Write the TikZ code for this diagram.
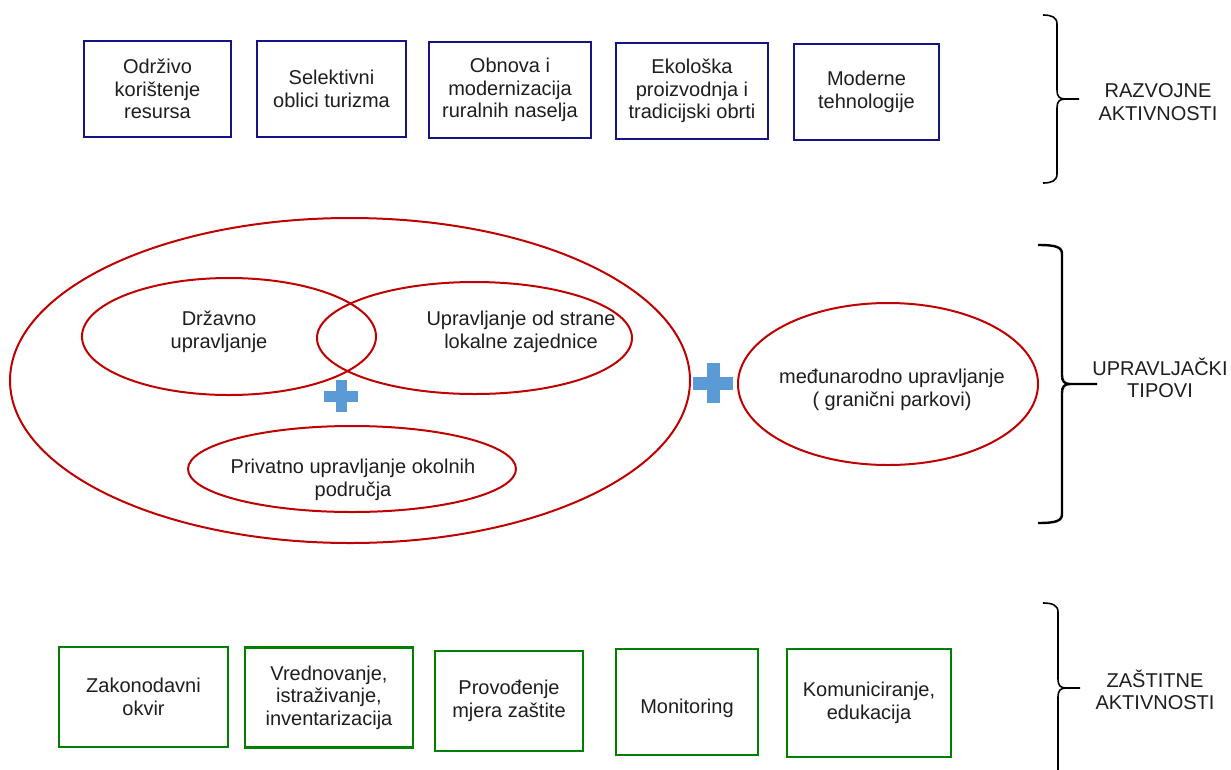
\documentclass[tikz,border=0pt]{standalone}
\usepackage{fontspec}
\setmainfont{Liberation Sans}
\usetikzlibrary{shapes.geometric}

\definecolor{boxblue}{RGB}{20,20,130}
\definecolor{boxgreen}{RGB}{0,128,0}
\definecolor{ovalred}{RGB}{192,0,0}
\definecolor{plusblue}{RGB}{91,155,213}
\definecolor{txtgray}{RGB}{30,30,30}

\begin{document}
\begin{tikzpicture}[
    x=1pt, y=-1pt,
    every node/.style={font=\fontsize{20}{22.5}\selectfont, text=txtgray, align=center},
    devbox/.style={draw=boxblue, line width=2.3pt, inner sep=0pt, minimum height=96},
    protbox/.style={draw=boxgreen, line width=2.3pt, inner sep=0pt, minimum height=100,
                    execute at begin node={\rule{0pt}{27pt}}},
    oval/.style={draw=ovalred, line width=2pt, ellipse, inner sep=0pt},
    bracket/.style={line width=1.8pt, black},
]
\useasboundingbox (0,0) rectangle (1231,769);
\fill[white] (0,0) rectangle (1231,769);

% Razvojne aktivnosti
\node[devbox, minimum width=147] (odrzivo)   at (157.5,89) {Održivo\\korištenje\\resursa};
\node[devbox, minimum width=149] (selektivni) at (331.5,89) {Selektivni\\oblici turizma};
\node[devbox, minimum width=162] (obnova)    at (510,90)   {Obnova i\\modernizacija\\ruralnih naselja};
\node[devbox, minimum width=152] (ekoloska)  at (692,91)   {Ekološka\\proizvodnja i\\tradicijski obrti};
\node[devbox, minimum width=145] (moderne)   at (866.5,92) {Moderne\\tehnologije};

% Upravljacki tipovi
\node[oval, minimum width=680, minimum height=325] (skupno) at (350,380.5) {};
\node[oval, minimum width=294, minimum height=117] (drzavno) at (229,336.5) {};
\node[oval, minimum width=315, minimum height=112] (lokalno) at (474.5,338) {};
\node[oval, minimum width=328, minimum height=86] (privatno) at (352,469) {};
\node[oval, minimum width=300, minimum height=162] (medjunarodno) at (888,384) {};
\node (drzavnotxt) at (219,332) {Državno\\upravljanje};
\node (lokalnotxt) at (521,332) {Upravljanje od strane\\lokalne zajednice};
\node (privatnotxt) at (353,480) {Privatno upravljanje okolnih\\područja};
\node (medjunarodnotxt) at (892,390) {međunarodno upravljanje\\( granični parkovi)};

% plusevi
\fill[plusblue] (335.5,380) rectangle (346.5,412);
\fill[plusblue] (324,390.5) rectangle (358,401.5);
\fill[plusblue] (706.5,363) rectangle (719.5,403);
\fill[plusblue] (693,376.5) rectangle (733,389.5);

% Zastitne aktivnosti
\node[protbox, minimum width=169] (zakonodavni) at (143.5,697) {Zakonodavni\\okvir};
\node[protbox, minimum width=168] (vrednovanje) at (329,697.5) {Vrednovanje,\\istraživanje,\\inventarizacija};
\node[protbox, minimum width=148] (provodjenje) at (509,701)   {Provođenje\\mjera zaštite};
\node[protbox, minimum width=142, minimum height=106] (monitoring) at (687,702) {Monitoring};
\node[protbox, minimum width=164, minimum height=108] (komuniciranje) at (869,703) {Komuniciranje,\\edukacija};

% zagrade
\foreach \bx/\bl/\btop/\bmid/\bbot/\btip/\bw in {1057/1043/15/99/183/1079/1.6, 1062/1038/245/384/523/1097/2.4}
  \draw[bracket, line width=\bw pt] (\bl,\btop) .. controls (\bx-6,\btop) and (\bx,\btop+2) .. (\bx,\btop+9)
    -- (\bx,\bmid-9) .. controls (\bx,\bmid-3) and (\bx+2,\bmid) .. (\bx+8,\bmid) -- (\btip,\bmid)
    (\bx+8,\bmid) .. controls (\bx+2,\bmid) and (\bx,\bmid+3) .. (\bx,\bmid+9)
    -- (\bx,\bbot-9) .. controls (\bx,\bbot-2) and (\bx-6,\bbot) .. (\bl,\bbot);
\draw[bracket, line width=1.6pt] (1043,603) .. controls (1052,603) and (1058,605) .. (1058,612)
    -- (1058,679) .. controls (1058,685) and (1060,688) .. (1066,688) -- (1080,688)
    (1066,688) .. controls (1060,688) and (1058,691) .. (1058,697) -- (1058,775);

\node (razvojne)    at (1158,102) {RAZVOJNE\\AKTIVNOSTI};
\node (upravljacki) at (1160,378) {UPRAVLJAČKI\\TIPOVI};
\node (zastitne)    at (1155,690) {ZAŠTITNE\\AKTIVNOSTI};

\end{tikzpicture}
\end{document}
